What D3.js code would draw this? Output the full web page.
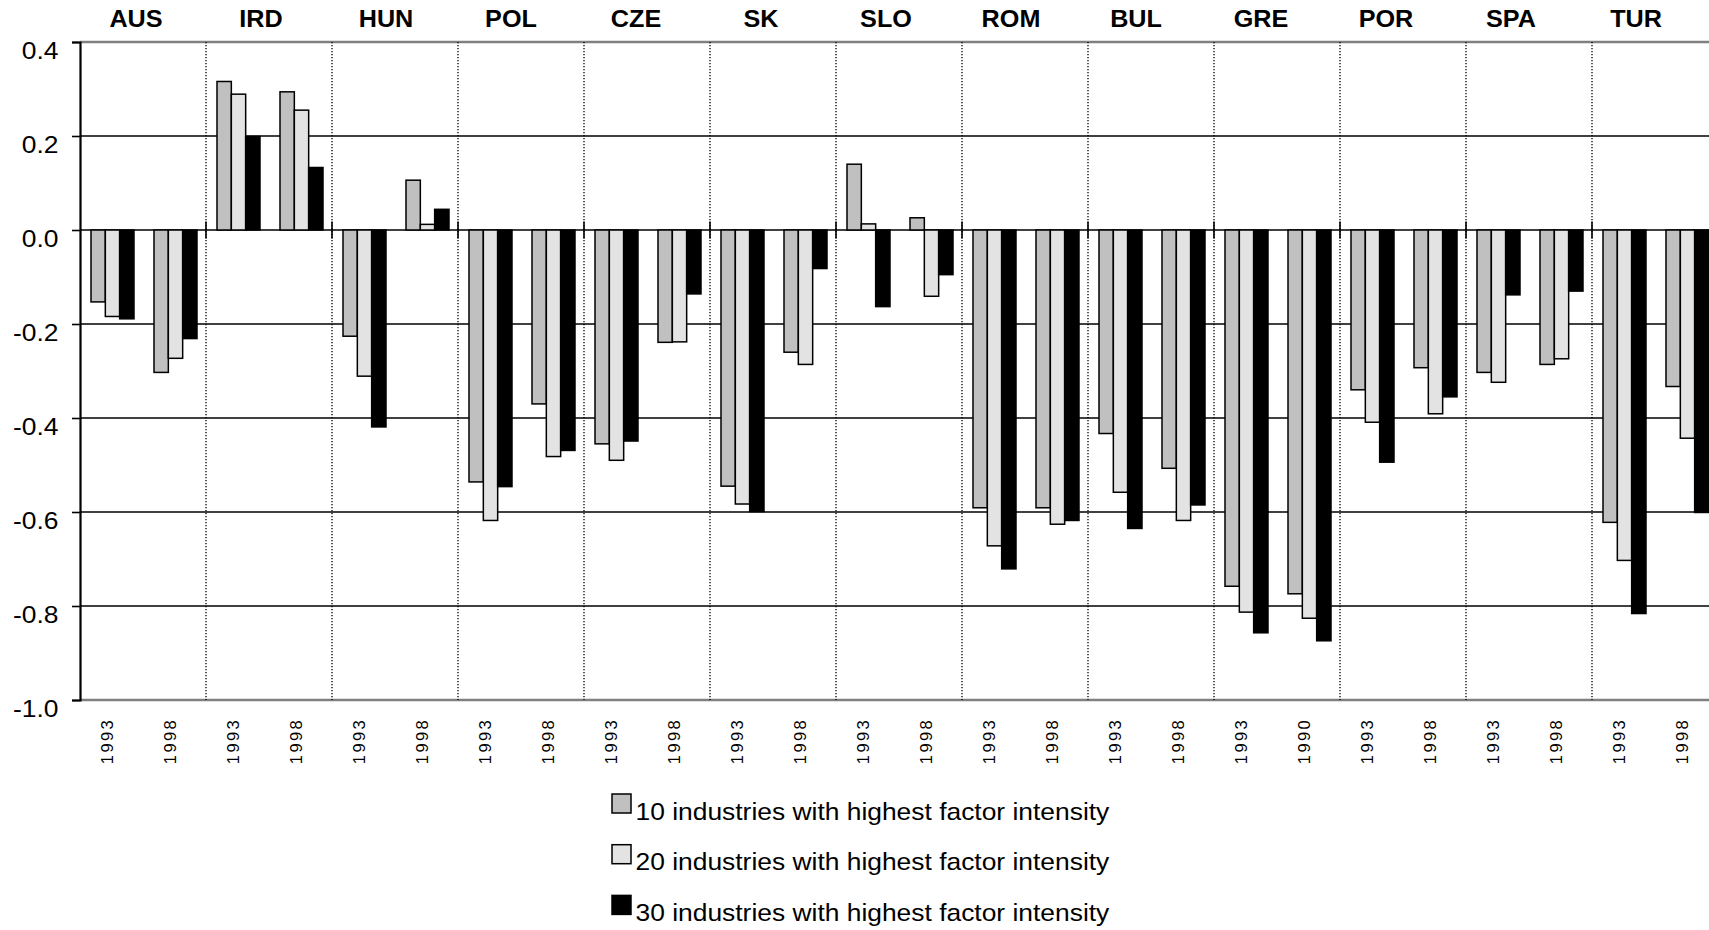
<!DOCTYPE html>
<html>
<head>
<meta charset="utf-8">
<script src="https://cdn.jsdelivr.net/npm/d3@7"></script>
<style>
  body { margin: 0; background: #fff; }
  text { font-family: "Liberation Sans", Arial, sans-serif; fill: #000; }
</style>
</head>
<body>
<div id="chart"></div>
<script>
// data
var countries = ["AUS", "IRD", "HUN", "POL", "CZE", "SK", "SLO", "ROM", "BUL", "GRE", "POR", "SPA", "TUR"];
var years = ["1993", "1998", "1993", "1998", "1993", "1998", "1993", "1998", "1993", "1998",
             "1993", "1998", "1993", "1998", "1993", "1998", "1993", "1998", "1993", "1990",
             "1993", "1998", "1993", "1998", "1993", "1998"];
var seriesNames = ["10 industries with highest factor intensity",
                   "20 industries with highest factor intensity",
                   "30 industries with highest factor intensity"];
var top10 = [-0.153, -0.303, 0.316, 0.294, -0.226, 0.106, -0.536, -0.370, -0.455, -0.239,
             -0.545, -0.260, 0.140, 0.026, -0.591, -0.591, -0.433, -0.507, -0.758, -0.774,
             -0.340, -0.293, -0.303, -0.286, -0.622, -0.333];
var top20 = [-0.184, -0.273, 0.289, 0.255, -0.311, 0.012, -0.618, -0.482, -0.490, -0.238,
             -0.583, -0.286, 0.013, -0.141, -0.672, -0.626, -0.558, -0.618, -0.813, -0.826,
             -0.409, -0.391, -0.324, -0.274, -0.703, -0.443];
var top30 = [-0.189, -0.231, 0.199, 0.133, -0.419, 0.044, -0.546, -0.469, -0.449, -0.136,
             -0.599, -0.082, -0.163, -0.095, -0.721, -0.618, -0.635, -0.585, -0.857, -0.874,
             -0.494, -0.355, -0.138, -0.130, -0.816, -0.601];
var yTicks = [-1.0, -0.8, -0.6, -0.4, -0.2, 0, 0.2, 0.4];
var colors = ["#c0c0c0", "#e3e3e3", "#000000"];

var svgWidth = 1709;
var svgHeight = 930;
var plot = { left: 80, right: 1718, top: 42, bottom: 700 };
var stretch = 1.1; // the source font looks a bit wider than Arial

var svg = d3.select("#chart")
  .append("svg")
  .attr("width", svgWidth)
  .attr("height", svgHeight);

var y = d3.scaleLinear().domain([-1, 0.4]).range([plot.bottom, plot.top]);
var xCat = d3.scaleBand().domain(d3.range(years.length)).range([plot.left, plot.right]);
var xGroup = d3.scaleBand().domain(countries).range([plot.left, plot.right]);
var xSeries = d3.scaleBand().domain(d3.range(3)).range([11, 54]);
var xLabel = d3.scalePoint().domain(countries).range([136, 1636]);

// gridlines
svg.append("g").selectAll("line")
  .data(yTicks)
  .enter()
  .append("line")
  .attr("x1", plot.left).attr("x2", plot.right)
  .attr("y1", d => y(d)).attr("y2", d => y(d))
  .attr("stroke", d => (d === 0.4 || d === -1.0) ? "#808080" : "#000")
  .attr("stroke-width", d => (d === 0.4 || d === -1.0) ? 2.5 : 1.4);

// dotted dividers between countries
svg.append("g").selectAll("line")
  .data(countries.slice(1))
  .enter()
  .append("line")
  .attr("x1", d => xGroup(d)).attr("x2", d => xGroup(d))
  .attr("y1", plot.top).attr("y2", plot.bottom)
  .attr("stroke", "#000")
  .attr("stroke-width", 1.3)
  .attr("stroke-dasharray", "1.3,1.7");

// small ticks where dividers cross the zero line
svg.append("g").selectAll("line")
  .data(countries.slice(1))
  .enter()
  .append("line")
  .attr("x1", d => xGroup(d)).attr("x2", d => xGroup(d))
  .attr("y1", y(0) - 8.5).attr("y2", y(0) + 8.5)
  .attr("stroke", "#000")
  .attr("stroke-width", 1.6);

// bars
var allSeries = [top10, top20, top30];
allSeries.forEach(function(vals, s) {
  svg.append("g").selectAll("rect")
    .data(vals)
    .enter()
    .append("rect")
    .attr("x", (d, i) => xCat(i) + xSeries(s))
    .attr("width", xSeries.bandwidth())
    .attr("y", d => y(Math.max(d, 0)))
    .attr("height", d => Math.abs(y(d) - y(0)))
    .attr("fill", colors[s])
    .attr("stroke", "#000")
    .attr("stroke-width", 1.5);
});

// y axis
var leftAxis = d3.axisLeft(y)
  .tickValues(yTicks)
  .tickSize(8)
  .tickFormat(d => d.toFixed(1));

var yAxis = svg.append("g")
  .attr("transform", `translate(${plot.left},0)`)
  .call(leftAxis);
yAxis.select(".domain").attr("stroke", "#000").attr("stroke-width", 2.2);
yAxis.selectAll(".tick line").attr("stroke", "#000").attr("stroke-width", 1.6);
yAxis.selectAll(".tick text")
  .attr("x", -21.5 / stretch)
  .attr("dy", null)
  .attr("y", 16)
  .attr("transform", `scale(${stretch},1)`)
  .style("font-size", "24px")
  .style("font-family", "'Liberation Sans', Arial, sans-serif")
  .attr("fill", "#000");

// country labels on top
svg.append("g").selectAll("g")
  .data(countries)
  .enter()
  .append("g")
  .attr("transform", d => `translate(${xLabel(d)},27) scale(1.05,1)`)
  .append("text")
  .attr("text-anchor", "middle")
  .style("font-size", "24px")
  .style("font-weight", "bold")
  .text(d => d);

// year labels, rotated
svg.append("g").selectAll("text")
  .data(years)
  .enter()
  .append("text")
  .attr("transform", (d, i) => `translate(${xCat(i) + xCat.bandwidth() / 2 - 4.5},741) rotate(-90)`)
  .attr("text-anchor", "middle")
  .attr("dy", "0.35em")
  .style("font-size", "16.5px")
  .style("letter-spacing", "2.4px")
  .text(d => d);

// legend
var legend = svg.append("g").selectAll("g")
  .data(seriesNames)
  .enter()
  .append("g")
  .attr("transform", (d, i) => `translate(612,${794 + i * 50.7})`);

legend.append("rect")
  .attr("width", 19)
  .attr("height", 19)
  .attr("fill", (d, i) => colors[i])
  .attr("stroke", "#000")
  .attr("stroke-width", 1.5);

legend.append("g")
  .attr("transform", `translate(23.5,25.5) scale(${stretch},1)`)
  .append("text")
  .style("font-size", "24px")
  .text(d => d);
</script>
</body>
</html>
